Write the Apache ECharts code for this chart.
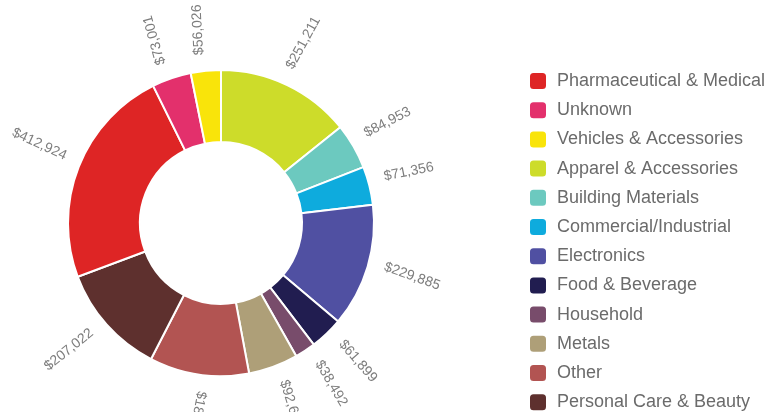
<!DOCTYPE html>
<html>
<head>
<meta charset="utf-8">
<script src="https://cdn.jsdelivr.net/npm/echarts@6/dist/echarts.min.js"></script>
<style>
  html, body { margin: 0; padding: 0; background: #fff; }
  #chart { width: 773px; height: 412px; }
</style>
</head>
<body>
<div id="chart"></div>
<script>
// slice order, clockwise from 12 o'clock
const categories = [
  'Apparel & Accessories', 'Building Materials', 'Commercial/Industrial', 'Electronics',
  'Food & Beverage', 'Household', 'Metals', 'Other', 'Personal Care & Beauty',
  'Pharmaceutical & Medical', 'Unknown', 'Vehicles & Accessories'
]
const values = [251211, 84953, 71356, 229885, 61899, 38492, 92650, 185200, 207022, 412924, 73001, 56026]
const colors = ['#cddc2a', '#6cc9bf', '#0eabdd', '#5050a2', '#211d50', '#784c6b', '#ae9f78', '#b25452', '#5e302e', '#de2525', '#e3306c', '#f9e40a']
// legend order
const legendOrder = [
  'Pharmaceutical & Medical', 'Unknown', 'Vehicles & Accessories', 'Apparel & Accessories',
  'Building Materials', 'Commercial/Industrial', 'Electronics', 'Food & Beverage',
  'Household', 'Metals', 'Other', 'Personal Care & Beauty'
]

const total = values.reduce((a, b) => a + b, 0)

// radial label orientation, flipped on the left so it stays readable
const labelRot = (function() {
  const out = []
  let cum = 0
  values.forEach(v => {
    let a = 90 - 360 * (cum + v / 2) / total - 3
    a = ((a + 180) % 360 + 360) % 360 - 180
    cum += v
    if (Math.cos(a * Math.PI / 180) < -0.4) {
      let b = a + 180
      if (b > 180) b -= 360
      out.push({ rotate: b, align: 'right', verticalAlign: 'bottom' })
    } else {
      out.push({ rotate: a, align: 'left', verticalAlign: 'bottom' })
    }
  })
  return out
}())

const fmt = v => '$' + v.toLocaleString('en-US')

const chart = echarts.init(document.getElementById('chart'))
chart.setOption({
  backgroundColor: '#ffffff',
  animation: false,
  legend: {
    orient: 'vertical',
    left: 528,
    top: 71,
    height: 380,
    padding: 0,
    itemWidth: 18,
    itemHeight: 18,
    itemGap: 9.2,
    icon: 'roundRect',
    textStyle: {
      color: '#6b6b6b',
      fontSize: 18,
      fontFamily: 'Liberation Sans, Arial, sans-serif',
      padding: [0, 0, 0, 5]
    },
    data: legendOrder
  },
  series: [{
    type: 'pie',
    center: [221, 223],
    radius: [81, 153],
    startAngle: 90,
    clockwise: true,
    avoidLabelOverlap: false,
    itemStyle: {
      borderColor: '#ffffff',
      borderWidth: 2
    },
    label: {
      show: true,
      position: 'outside',
      color: '#7d7d7d',
      fontSize: 14,
      lineHeight: 10,
      fontFamily: 'Liberation Sans, Arial, sans-serif',
      distanceToLabelLine: 0,
      formatter(p) {
        return fmt(p.value)
      }
    },
    labelLine: {
      show: false,
      length: 16,
      length2: 0
    },
    labelLayout(p) {
      return labelRot[p.dataIndex]
    },
    emphasis: { disabled: true },
    data: categories.map((c, i) => ({
      name: c,
      value: values[i],
      itemStyle: { color: colors[i] }
    }))
  }]
})
</script>
</body>
</html>
